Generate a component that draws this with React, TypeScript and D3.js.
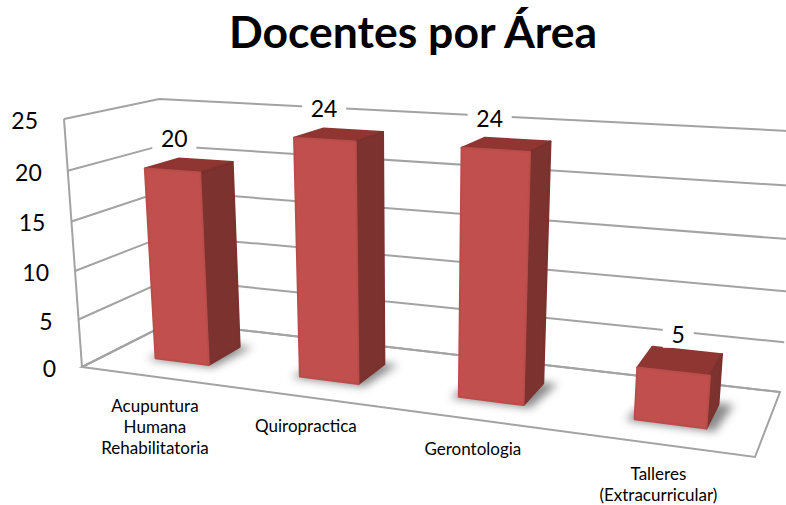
import React from "react";
import * as d3 from "d3";

const title = "Docentes por Área";
const categories = [
  ["Acupuntura", "Humana", "Rehabilitatoria"],
  ["Quiropractica"],
  ["Gerontologia"],
  ["Talleres", "(Extracurricular)"],
];
const values = [20, 24, 24, 5];
const yTicks = [0, 5, 10, 15, 20, 25];

const width = 786;
const height = 505;
const font = "Lato, 'Open Sans', sans-serif";

// corners of the floor and wall
const floorFL = [82, 367];
const floorFR = [755, 457];
const floorBR = [780, 392];
const floorBL = [171, 322];
const wallFL = [64, 119];
const wallBRx = 802;

// unit square -> floor quad
const dx1 = floorFR[0] - floorBR[0];
const dx2 = floorBL[0] - floorBR[0];
const dy1 = floorFR[1] - floorBR[1];
const dy2 = floorBL[1] - floorBR[1];
const sx = floorFL[0] - floorFR[0] + floorBR[0] - floorBL[0];
const sy = floorFL[1] - floorFR[1] + floorBR[1] - floorBL[1];
const den = dx1 * dy2 - dx2 * dy1;
const g = (sx * dy2 - dx2 * sy) / den;
const h = (dx1 * sy - sx * dy1) / den;
const a = floorFR[0] - floorFL[0] + g * floorFR[0];
const b = floorBL[0] - floorFL[0] + h * floorBL[0];
const c = floorFL[0];
const d = floorFR[1] - floorFL[1] + g * floorFR[1];
const e = floorBL[1] - floorFL[1] + h * floorBL[1];
const f = floorFL[1];

// column for the value axis, so value 1 lands on the wall corners
const vw =
  (wallFL[0] - c - (wallBRx * (g + h + 1) - (a + b + c))) / (wallBRx - wallFL[0]);
const vx = wallFL[0] * (1 + vw) - c;
const vy = wallFL[1] * (1 + vw) - f;

const project = (u: number, z: number, v: number): [number, number] => {
  const w = g * u + h * z + vw * v + 1;
  const px = (a * u + b * z + vx * v + c) / w;
  const py = (d * u + e * z + vy * v + f) / w;
  // the source picture is a little sheared, top right sits lower
  return [px, py + (v * 7 * (px - wallFL[0])) / (wallBRx - wallFL[0])];
};

const xScale = d3.scaleBand<number>().domain(d3.range(categories.length)).range([0.005, 1.005]).paddingInner(0.62).paddingOuter(0.31);
const yScale = d3.scaleLinear().domain([0, 25]).range([0, 1]);
const barScale = d3.scaleLinear().domain([0, 25]).range([0, 0.987]);
const depthScale = d3.scaleLinear().domain([0, 1]).range([0.3, 0.68]);

const line = d3.line();
const poly = (pts: [number, number][]) => line(pts) + "Z";

const labelShift = [-15, -15, -17, -2];

export default function App() {
  const z0 = depthScale(0);
  const z1 = depthScale(1);
  const bw = xScale.bandwidth();

  return (
    <svg width={width} height={height} style={{ position: "absolute", left: 0, top: 0, background: "#fff" }}>
      <defs>
        <filter id="soft" x="-30%" y="-30%" width="160%" height="160%">
          <feGaussianBlur stdDeviation="4" />
        </filter>
        <filter id="edge" x="-5%" y="-5%" width="110%" height="110%">
          <feGaussianBlur stdDeviation="0.5" />
        </filter>
      </defs>

      <text x={413} y={48} textAnchor="middle" fontFamily={font} fontWeight={700} fontSize={44.5} fill="#000">
        {title}
      </text>

      {/* gridlines on left and back wall */}
      <g fill="none" stroke="#a3a3a3" strokeWidth={2} filter="url(#edge)">
        {yTicks.map((t) => (
          <path key={t} d={line([project(0, 0, yScale(t)), project(0, 1, yScale(t)), project(1, 1, yScale(t))]) as string} />
        ))}
        <path d={line([project(0, 0, 0), project(0, 0, 1)]) as string} />
        <path d={poly([project(0, 0, 0), project(1, 0, 0), project(1, 1, 0), project(0, 1, 0)])} />
      </g>

      {/* y axis labels */}
      {yTicks.map((t) => {
        const [px, py] = project(0, 0, yScale(t));
        return (
          <text key={t} x={px - 26} y={py + 2} dy="0.35em" textAnchor="end" fontFamily={font} fontSize={23} fill="#000">
            {t}
          </text>
        );
      })}

      {/* bars */}
      {values.map((val, i) => {
        const u0 = xScale(i) as number;
        const u1 = u0 + bw;
        const v = barScale(val);
        return (
          <g key={i}>
            <path
              d={poly([project(u0 - 0.01, z0 - 0.03, 0), project(u1 + 0.012, z0 - 0.03, 0), project(u1 + 0.02, z1 + 0.02, 0), project(u0, z1 + 0.02, 0)])}
              fill="#4d4d4d"
              opacity={0.65}
              filter="url(#soft)"
            />
            <g filter="url(#edge)" strokeLinejoin="round" strokeWidth={2}>
              <path d={poly([project(u0, z0, v), project(u1, z0, v), project(u1, z1, v), project(u0, z1, v)])} fill="#8f3532" stroke="#8f3532" />
              <path d={poly([project(u1, z0, 0), project(u1, z1, 0), project(u1, z1, v), project(u1, z0, v)])} fill="#7b302d" stroke="#7b302d" />
              <path d={poly([project(u0, z0, 0), project(u1, z0, 0), project(u1, z0, v), project(u0, z0, v)])} fill="#c0504d" stroke="#b94d4a" />
            </g>
          </g>
        );
      })}

      {/* data labels sit on a white box that cuts the gridlines */}
      {values.map((val, i) => {
        const u = (xScale(i) as number) + bw / 2;
        const [px, py] = project(u, (z0 + z1) / 2, barScale(val));
        const lx = px + labelShift[i];
        const ly = py - 26;
        const boxW = String(val).length * 13 + 18;
        return (
          <g key={i}>
            <rect x={lx - boxW / 2} y={ly - 13} width={boxW} height={26} fill="#fff" />
            <text x={lx} y={ly} dy="0.35em" textAnchor="middle" fontFamily={font} fontSize={23} fill="#000">
              {val}
            </text>
          </g>
        );
      })}

      {/* category labels */}
      {categories.map((lines, i) => {
        const [px, py] = project((xScale(i) as number) + bw / 2, 0, 0);
        return (
          <text key={i} textAnchor="middle" fontFamily={font} fontSize={17} fill="#000">
            {lines.map((s, j) => (
              <tspan key={j} x={px} y={py + 29.5 + j * 21} dy="0.35em">
                {s}
              </tspan>
            ))}
          </text>
        );
      })}
    </svg>
  );
}
